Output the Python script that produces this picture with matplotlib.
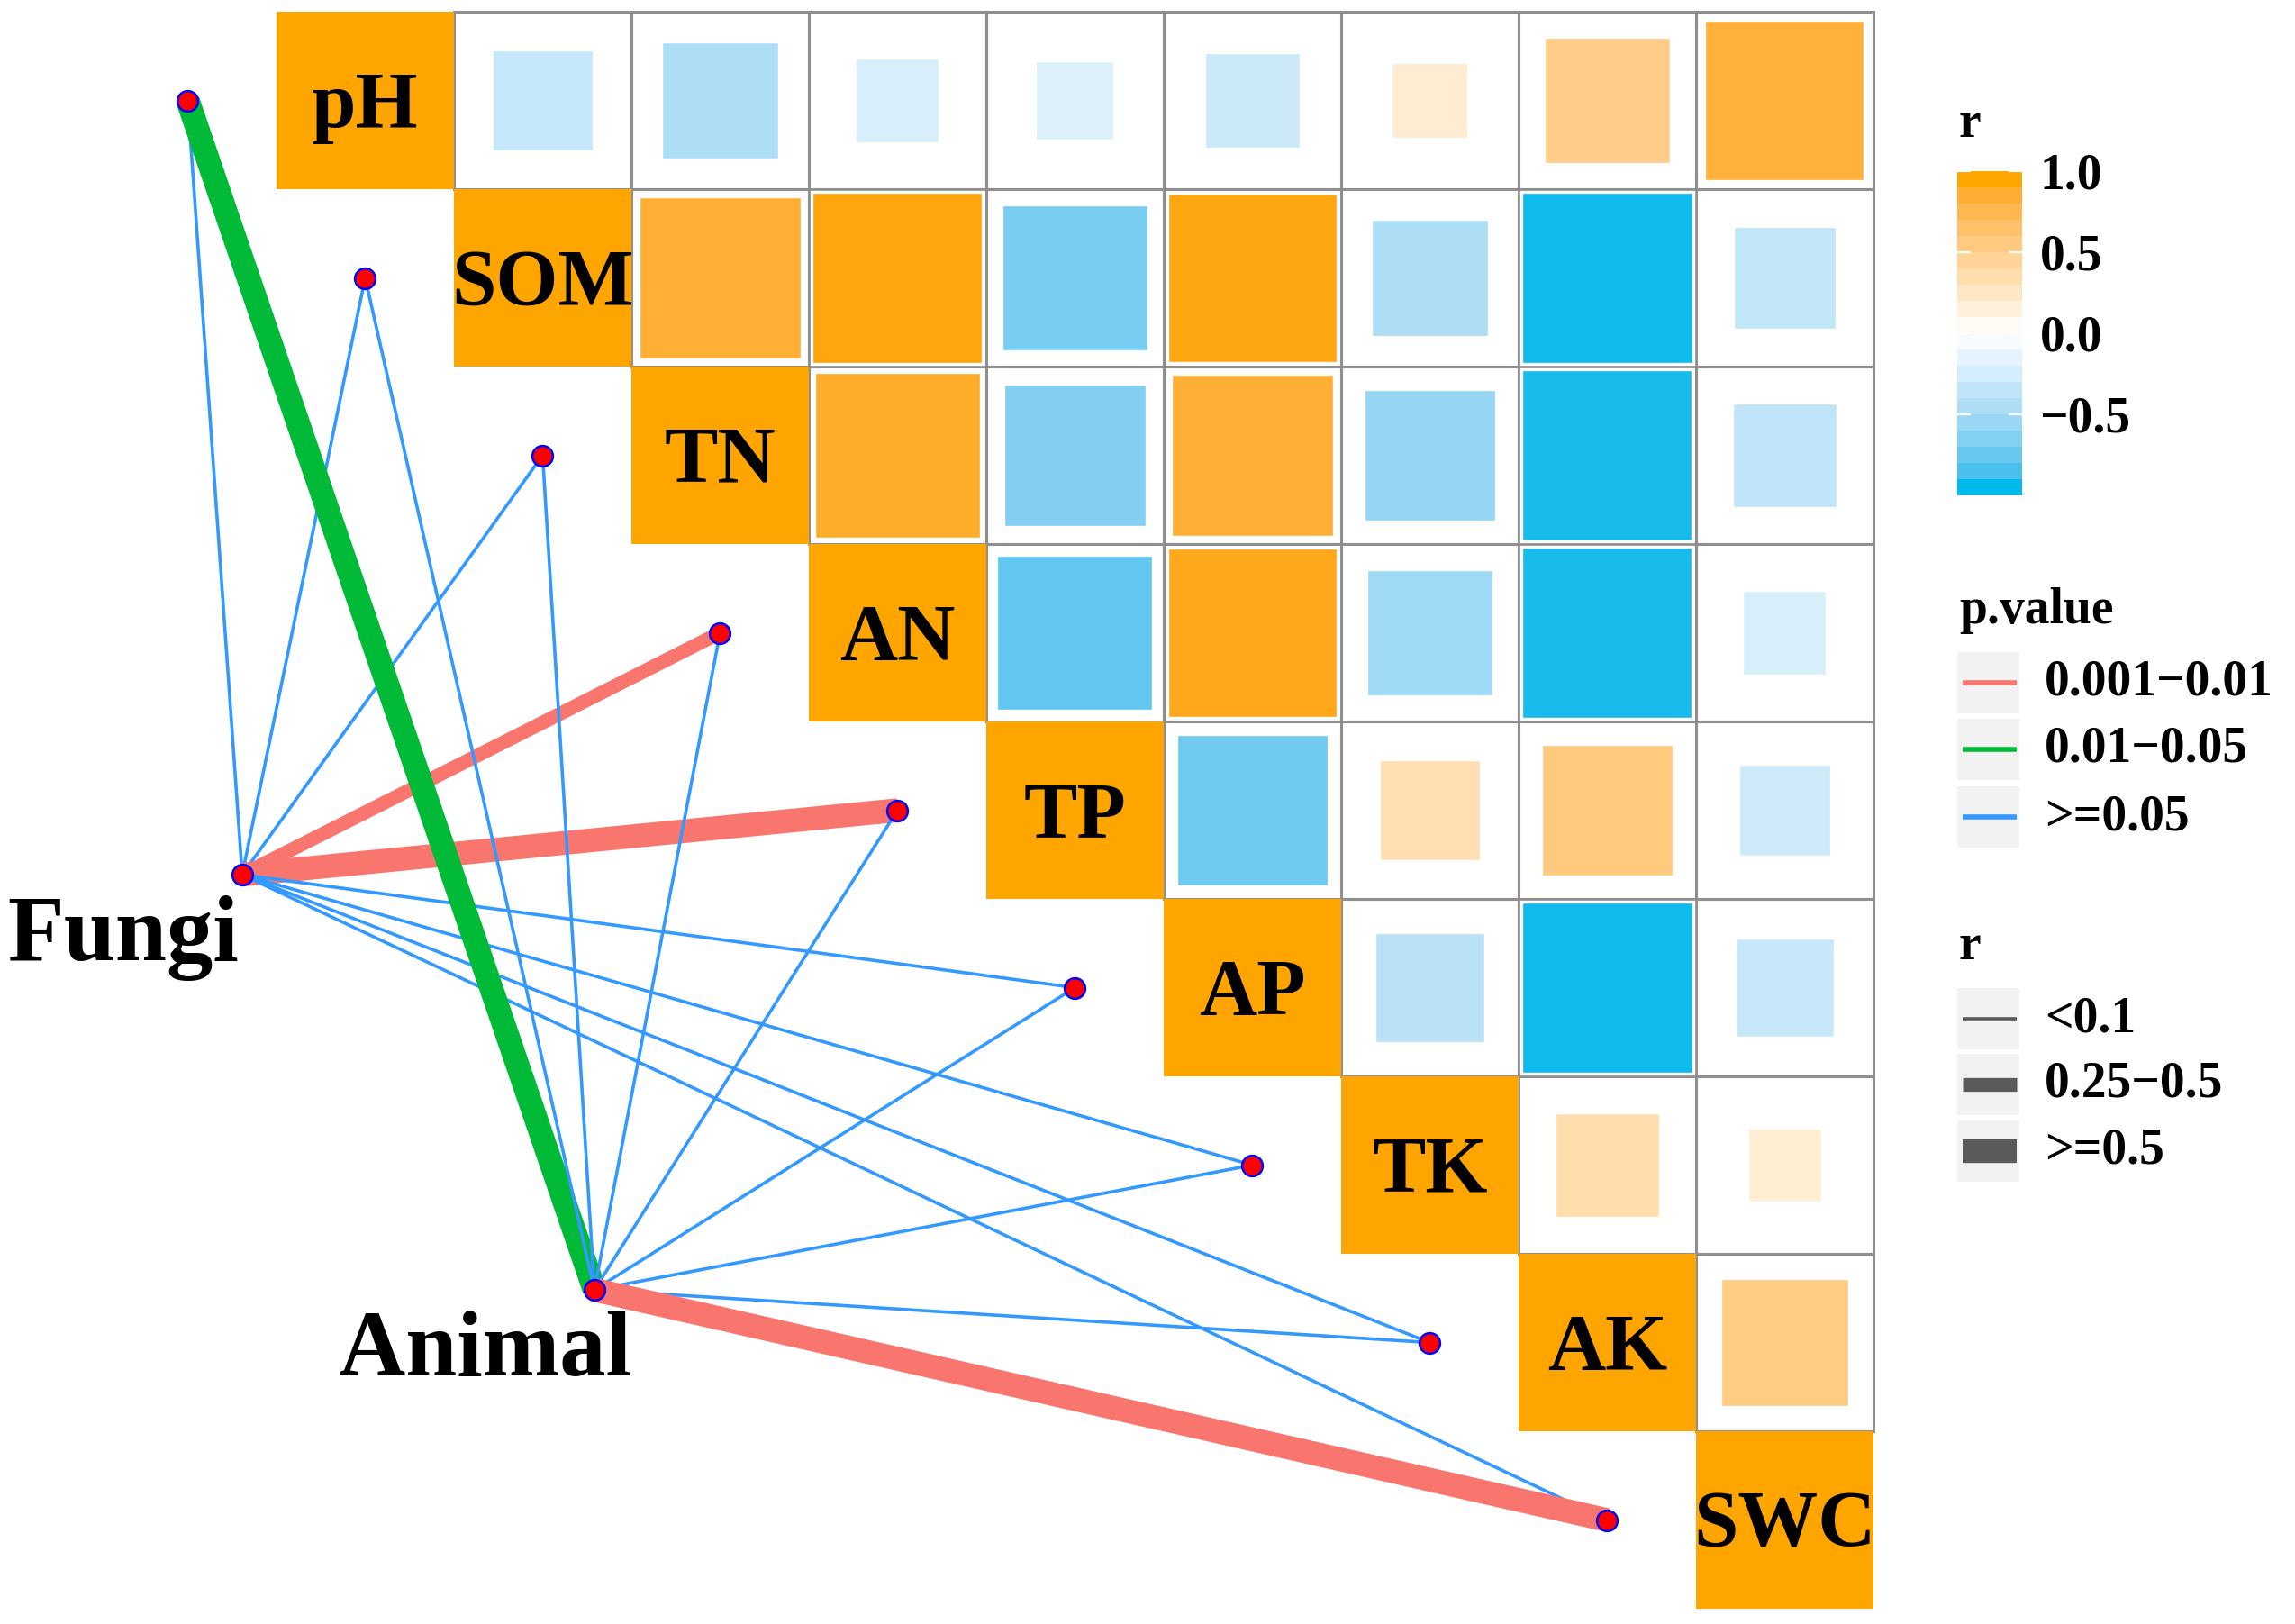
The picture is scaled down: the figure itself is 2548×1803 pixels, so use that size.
import numpy as np
import matplotlib
matplotlib.use('Agg')
import matplotlib.pyplot as plt
from matplotlib.patches import Rectangle
from matplotlib.colors import ListedColormap, Normalize, to_rgb
from matplotlib.cm import ScalarMappable

plt.rcParams['font.family'] = ['Liberation Serif', 'DejaVu Serif']
plt.rcParams['font.weight'] = 'bold'

# environmental variables (diagonal of the matrix)
env = ['pH', 'SOM', 'TN', 'AN', 'TP', 'AP', 'TK', 'AK', 'SWC']

# upper triangle of the correlation matrix, row by row (values right of the diagonal)
r_pH = [-0.35, -0.47, -0.24, -0.21, -0.31, 0.20, 0.54, 0.86]
r_SOM = [0.88, 0.98, -0.72, 0.97, -0.47, -0.99, -0.36]
r_TN = [0.92, -0.68, 0.88, -0.59, -0.98, -0.37]
r_AN = [-0.82, 0.96, -0.54, -0.98, -0.24]
r_TP = [-0.77, 0.35, 0.58, -0.29]
r_AP = [-0.41, -0.99, -0.33]
r_TK = [0.37, 0.19]
r_AK = [0.56]
upper = [r_pH, r_SOM, r_TN, r_AN, r_TP, r_AP, r_TK, r_AK]

# mantel test results, one entry per env variable
spec = ['Fungi', 'Animal']
fungi_p = ['>=0.05', '>=0.05', '>=0.05', '0.001-0.01', '0.001-0.01',
           '>=0.05', '>=0.05', '>=0.05', '>=0.05']
fungi_r = ['<0.1', '<0.1', '<0.1', '0.25-0.5', '>=0.5',
           '<0.1', '<0.1', '<0.1', '<0.1']
animal_p = ['0.01-0.05', '>=0.05', '>=0.05', '>=0.05', '>=0.05',
            '>=0.05', '>=0.05', '>=0.05', '0.001-0.01']
animal_r = ['>=0.5', '<0.1', '<0.1', '<0.1', '<0.1',
            '<0.1', '<0.1', '<0.1', '>=0.5']

p_levels = ['0.001-0.01', '0.01-0.05', '>=0.05']
p_labels = ['0.001\u22120.01', '0.01\u22120.05', '>=0.05']
r_levels = ['<0.1', '0.25-0.5', '>=0.5']
r_labels = ['<0.1', '0.25\u22120.5', '>=0.5']
cbar_ticks = [-0.5, 0.0, 0.5, 1.0]

p_col = {'0.001-0.01': '#F8766D', '0.01-0.05': '#00BA38', '>=0.05': '#3399FF'}
r_lw = {'<0.1': 1.3, '0.25-0.5': 5.5, '>=0.5': 9.5}


# diverging gradient interpolated in Lab space (like ggplot's gradient2)
M = np.array([[0.4124, 0.3576, 0.1805],
              [0.2126, 0.7152, 0.0722],
              [0.0193, 0.1192, 0.9505]])
WP = np.array([0.95047, 1.0, 1.08883])


def to_lab(c):
    c = np.array(to_rgb(c))
    lin = np.where(c > 0.04045, ((c + 0.055) / 1.055) ** 2.4, c / 12.92)
    t = M @ lin / WP
    f = np.where(t > (6 / 29) ** 3, np.cbrt(t), t / (3 * (6 / 29) ** 2) + 4 / 29)
    return np.array([116 * f[1] - 16, 500 * (f[0] - f[1]), 200 * (f[1] - f[2])])


def from_lab(lab):
    fy = (lab[0] + 16) / 116
    f = np.array([fy + lab[1] / 500, fy, fy - lab[2] / 200])
    t = np.where(f > 6 / 29, f ** 3, 3 * (6 / 29) ** 2 * (f - 4 / 29)) * WP
    lin = np.linalg.solve(M, t)
    c = np.where(lin > 0.0031308, 1.055 * np.clip(lin, 0, None) ** (1 / 2.4) - 0.055, 12.92 * lin)
    return np.clip(c, 0, 1)


def lab_cmap(low, mid, high, n=256):
    a, b, c = to_lab(low), to_lab(mid), to_lab(high)
    cols = []
    for t in np.linspace(0, 1, n):
        if t < 0.5:
            cols.append(from_lab(a + (b - a) * t * 2))
        else:
            cols.append(from_lab(b + (c - b) * (t - 0.5) * 2))
    return ListedColormap(cols)


cmap = lab_cmap('#00BAEC', 'white', '#FFA500')
cmap_bar = lab_cmap('#00BAEC', 'white', '#FFA500', n=20)
norm = Normalize(-1, 1)

fig = plt.figure(figsize=(12.74, 9.015), dpi=200)
ax = fig.add_axes([0, 0, 1, 1])
ax.set_xlim(-2.058, 10.876)
ax.set_ylim(8.586, -0.566)
ax.axis('off')

n = len(env)
# grid + squares
for i in range(n):
    for j in range(i + 1, n):
        ax.add_patch(Rectangle((j - 0.5, i - 0.5), 1, 1, fill=False,
                               ec='#8F8F8F', lw=1.1, zorder=1))
        r = upper[i][j - i - 1]
        s = np.sqrt(abs(r)) * 0.975
        ax.add_patch(Rectangle((j - s / 2, i - s / 2), s, s, fc=cmap(norm(r)),
                               ec='white', lw=1.2, zorder=2))
    ax.add_patch(Rectangle((i - 0.5, i - 0.5), 1, 1, fc=cmap(norm(1.0)),
                           ec='none', zorder=3))
    ax.text(i, i + 0.04, env[i], ha='center', va='center', fontsize=32,
            fontweight='bold', zorder=4)

# links
spec_xy = {'Fungi': (-0.693, 4.363), 'Animal': (1.292, 6.703)}
links = {'Fungi': (fungi_p, fungi_r), 'Animal': (animal_p, animal_r)}
env_x = [i - 1 for i in range(n)]
env_y = [i for i in range(n)]
for sp in spec:
    sx, sy = spec_xy[sp]
    pv, rv = links[sp]
    for i in range(n):
        ax.plot([sx, env_x[i]], [sy, env_y[i]], color=p_col[pv[i]],
                lw=r_lw[rv[i]], solid_capstyle='butt', zorder=5)

ax.plot(env_x, env_y, 'o', ms=8.2, mfc='red', mec='blue', mew=0.9, zorder=7)
ax.plot([spec_xy[s][0] for s in spec], [spec_xy[s][1] for s in spec], 'o',
        ms=8.2, mfc='red', mec='blue', mew=0.9, zorder=7)

ax.text(-0.713, 4.845, 'Fungi', ha='right', va='baseline', fontsize=37, fontweight='bold')
ax.text(0.673, 7.185, 'Animal', ha='center', va='baseline', fontsize=37, fontweight='bold')

# colorbar legend
W, H = 2548, 1803
cax = fig.add_axes([2173 / W, 1 - 550 / H, 72 / W, 360 / H])
sm = ScalarMappable(norm=norm, cmap=cmap_bar)
cb = fig.colorbar(sm, cax=cax, ticks=cbar_ticks)
cb.outline.set_visible(False)
cax.tick_params(direction='in', length=5.5, width=0.8, color='white',
                left=True, right=True, labelsize=20, pad=7)
for t in cax.get_yticklabels():
    t.set_fontweight('bold')

# line legends drawn in pixel space
lg = fig.add_axes([0, 0, 1, 1])
lg.set_xlim(0, W)
lg.set_ylim(H, 0)
lg.axis('off')

lg.text(2175, 152, 'r', fontsize=20, fontweight='bold', va='baseline')
lg.text(2175, 692, 'p.value', fontsize=20, fontweight='bold', va='baseline')
lg.text(2175, 1065, 'r', fontsize=20, fontweight='bold', va='baseline')

for k, yc in enumerate([758, 832, 907]):
    lg.add_patch(Rectangle((2173, yc - 34), 69, 68, fc='#F2F2F2', ec='none'))
    lg.plot([2179, 2239], [yc, yc], color=p_col[p_levels[k]], lw=2.0,
            solid_capstyle='butt')
    lg.text(2270, yc, p_labels[k], fontsize=20, fontweight='bold', va='center')

for k, yc in enumerate([1131, 1204, 1278]):
    lg.add_patch(Rectangle((2173, yc - 34), 69, 68, fc='#F2F2F2', ec='none'))
    lg.plot([2179, 2239], [yc, yc], color='#5A5A5A', lw=r_lw[r_levels[k]],
            solid_capstyle='butt')
    lg.text(2270, yc, r_labels[k], fontsize=20, fontweight='bold', va='center')

fig.savefig('out.png', dpi=200)
